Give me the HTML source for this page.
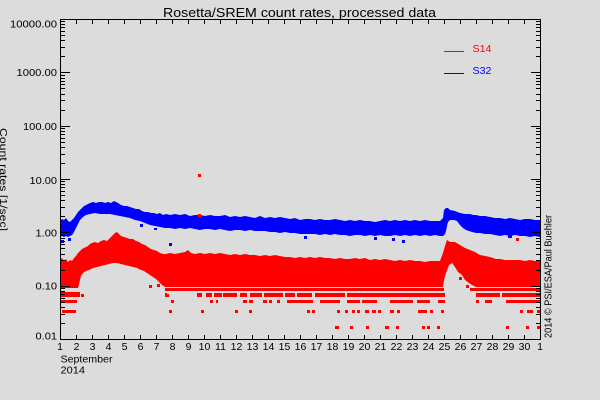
<!DOCTYPE html>
<html><head><meta charset="utf-8"><style>
html,body{margin:0;padding:0;background:#dcdcdc;}
svg{display:block;}
text{font-family:"Liberation Sans",sans-serif;fill:#000;}
</style></head><body>
<svg width="600" height="400" viewBox="0 0 600 400" xmlns="http://www.w3.org/2000/svg">
<rect x="0" y="0" width="600" height="400" fill="#dcdcdc"/>
<defs><clipPath id="pc"><rect x="61" y="20" width="479" height="319"/></clipPath></defs>
<g clip-path="url(#pc)">
<!-- blue band -->
<polygon fill="#0000ff" points="60,221 62,219 64,220 66,218 68,221 70,222 72,220 74,218 76,215 78,212 80,210 82,208 84,206 86,205 88,204 90,203 93,202 96,203 99,202 102,202 105,203 108,202 111,203 114,201 116,202 118,203 121,205 124,206 127,206 130,207 133,208 136,209 139,209 142,211 145,212 148,212 151,213 154,213 157,214 160,213 163,215 166,214 170,215 175,214 180,215 185,214 190,216 195,215 200,215 205,216 210,215 215,216 220,216 225,215 230,217 235,216 240,217 245,216 250,217 255,218 260,216 265,218 270,217 275,218 280,217 285,218 290,219 295,218 300,220 305,219 310,219 315,220 320,219 325,220 330,220 335,219 340,220 345,221 350,220 355,221 360,220 365,221 370,221 375,222 380,221 385,220 390,221 395,220 400,221 405,220 410,221 415,220 420,221 425,220 430,221 435,221 440,221 443,218 444,210 446,208 448,208 450,210 455,211 460,213 465,214 470,214 473,215 476,215 480,216 485,216 490,217 495,218 500,218 505,219 510,218 515,219 520,220 525,219 530,219 535,220 540,220 540,237 535,236 530,237 525,236 520,236 515,235 510,236 505,235 500,236 495,235 490,234 485,234 480,233 476,233 472,232 469,231 466,230 463,228 460,225 457,221 454,220 450,220 448,222 447,226 446,231 445,234 443,236 440,236 435,235 430,236 425,235 420,236 415,235 410,236 405,235 400,236 395,235 390,236 385,236 380,235 375,236 370,235 365,236 360,235 355,235 350,236 345,235 340,235 335,234 330,235 325,234 320,235 315,234 310,234 305,234 300,234 295,233 290,233 285,232 280,233 275,232 270,232 265,231 260,231 255,231 250,230 245,231 240,230 235,230 230,231 225,230 220,229 215,230 210,229 205,229 200,230 195,229 190,228 185,229 180,228 175,229 170,228 165,228 160,227 155,226 150,225 145,223 140,221 135,220 130,218 125,217 120,216 115,215 110,214 105,214 100,214 95,213 90,214 86,215 83,217 80,220 78,224 76,228 74,232 72,235 70,236 68,237 66,236 64,237 62,236 60,237"/>
<g fill="#0000ff">
<rect x="61" y="240" width="3" height="3"/><rect x="68" y="238" width="3" height="3"/>
<rect x="169" y="243" width="3" height="3"/><rect x="402" y="240" width="3" height="3"/>
<rect x="140" y="224" width="3" height="3"/><rect x="154" y="228" width="3" height="2"/>
<rect x="304" y="236" width="3" height="3"/><rect x="374" y="237" width="3" height="3"/>
<rect x="392" y="238" width="3" height="3"/><rect x="508" y="235" width="4" height="3"/>
</g>
<!-- red dense band -->
<polygon fill="#ff0000" points="60,260 62,258 64,261 66,259 68,262 70,260 72,261 74,258 76,256 78,253 80,251 82,249 84,248 86,247 88,246 90,244 92,243 95,242 98,243 101,241 104,240 107,241 110,238 113,235 115,233 117,232 119,234 121,236 124,237 127,238 130,239 133,239 136,241 139,242 142,244 145,245 148,247 151,249 154,250 157,251 160,253 163,254 166,254 170,253 175,254 180,253 185,252 188,250 191,253 195,254 200,253 205,254 210,253 215,254 220,253 225,254 230,255 235,254 240,255 245,254 250,255 255,255 260,256 265,255 270,256 275,255 280,256 285,257 290,257 295,258 300,257 305,258 310,257 315,258 320,257 325,258 330,258 335,259 340,258 345,259 350,259 355,258 360,259 365,258 370,260 375,259 380,260 385,259 390,260 395,261 400,260 405,261 410,260 415,261 420,261 425,262 430,261 435,261 440,261 443,253 445,246 447,240 450,242 455,242 460,245 465,248 470,250 475,252 480,255 485,256 490,257 496,259 500,259 505,260 510,260 515,260 520,260 525,261 530,260 535,261 540,261 540,287 476,287 472,285 469,283 465,280 462,275 458,272 455,267 452,263 449,265 446,273 444,280 443,287 165,287 162,285 159,282 156,279 153,277 150,275 147,273 144,271 141,270 137,268 133,267 129,266 125,265 121,264 117,263 113,263 109,264 105,265 101,266 97,267 93,268 89,270 86,271 83,273 81,276 80,280 79,284 78,288 60,288"/>
<g fill="#ff0000">
<!-- row A -->
<rect x="165" y="288" width="279" height="3"/><rect x="470" y="288" width="70" height="3"/>
<!-- row B -->
<rect x="60" y="292" width="20" height="5"/>
<rect x="165" y="293" width="2" height="4"/><rect x="197" y="293" width="5" height="4"/><rect x="206" y="293" width="6" height="4"/><rect x="214" y="293" width="8" height="4"/><rect x="223" y="293" width="14" height="4"/><rect x="240" y="293" width="7" height="4"/><rect x="250" y="293" width="12" height="4"/><rect x="264" y="293" width="19" height="4"/><rect x="285" y="293" width="10" height="4"/><rect x="297" y="293" width="15" height="4"/><rect x="315" y="293" width="30" height="4"/><rect x="347" y="293" width="98" height="4"/>
<rect x="476" y="293" width="24" height="4"/><rect x="502" y="293" width="38" height="4"/>
<!-- row C -->
<rect x="60" y="300" width="17" height="3"/>
<rect x="210" y="300" width="3" height="3"/><rect x="216" y="300" width="2" height="3"/><rect x="243" y="300" width="4" height="3"/><rect x="249" y="300" width="4" height="3"/><rect x="263" y="300" width="4" height="3"/><rect x="269" y="300" width="3" height="3"/><rect x="277" y="300" width="3" height="3"/><rect x="287" y="300" width="26" height="3"/><rect x="320" y="300" width="20" height="3"/><rect x="347" y="300" width="13" height="3"/><rect x="362" y="300" width="15" height="3"/><rect x="390" y="300" width="23" height="3"/><rect x="417" y="300" width="13" height="3"/><rect x="438" y="300" width="7" height="3"/>
<rect x="476" y="300" width="3" height="3"/><rect x="485" y="300" width="7" height="3"/><rect x="506" y="300" width="34" height="3"/>
<!-- row D -->
<rect x="62" y="310" width="14" height="3"/>
<rect x="169" y="310" width="3" height="3"/><rect x="201" y="310" width="3" height="3"/><rect x="235" y="310" width="3" height="3"/><rect x="249" y="310" width="3" height="3"/><rect x="307" y="310" width="3" height="3"/><rect x="312" y="310" width="3" height="3"/><rect x="337" y="310" width="3" height="3"/><rect x="345" y="310" width="3" height="3"/><rect x="352" y="310" width="3" height="3"/><rect x="357" y="310" width="3" height="3"/><rect x="365" y="310" width="4" height="3"/><rect x="372" y="310" width="4" height="3"/><rect x="378" y="310" width="3" height="3"/><rect x="390" y="310" width="4" height="3"/><rect x="397" y="310" width="3" height="3"/><rect x="418" y="310" width="9" height="3"/><rect x="430" y="310" width="3" height="3"/><rect x="441" y="310" width="3" height="3"/>
<rect x="520" y="310" width="3" height="3"/><rect x="527" y="310" width="6" height="3"/><rect x="537" y="310" width="3" height="3"/>
<!-- row E -->
<rect x="335" y="326" width="4" height="3"/><rect x="350" y="326" width="3" height="3"/><rect x="366" y="326" width="3" height="3"/><rect x="385" y="326" width="4" height="3"/><rect x="396" y="326" width="3" height="3"/><rect x="422" y="326" width="3" height="3"/><rect x="427" y="326" width="3" height="3"/><rect x="437" y="326" width="3" height="3"/><rect x="506" y="326" width="3" height="3"/><rect x="526" y="326" width="3" height="3"/><rect x="537" y="326" width="3" height="3"/>
<!-- scattered -->
<rect x="81" y="294" width="3" height="3"/><rect x="149" y="285" width="3" height="3"/><rect x="157" y="284" width="3" height="3"/><rect x="166" y="294" width="3" height="3"/><rect x="171" y="300" width="3" height="3"/>
<rect x="198" y="174" width="3" height="3"/><rect x="198" y="214" width="3" height="3"/><rect x="516" y="238" width="3" height="3"/>
<rect x="459" y="277" width="3" height="3"/><rect x="466" y="285" width="3" height="3"/>
</g>
</g>
<!-- light gap lines inside red -->
<rect x="240" y="287" width="204" height="1" fill="#dcdcdc"/>
<!-- axes -->
<g stroke="#000" stroke-width="1" fill="none" shape-rendering="crispEdges">
<rect x="60.5" y="19.5" width="480" height="320"/>
<path id="lt" d="M60 19.5H70M60 72.5H70M60 126.5H70M60 179.5H70M60 232.5H70M60 286.5H70M60 339.5H70
M60 323.5H65M60 314.5H65M60 307.5H65M60 302.5H65M60 298.5H65M60 294.5H65M60 291.5H65M60 288.5H65
M60 270.5H65M60 260.5H65M60 254.5H65M60 248.5H65M60 244.5H65M60 241.5H65M60 238.5H65M60 235.5H65
M60 216.5H65M60 207.5H65M60 200.5H65M60 195.5H65M60 191.5H65M60 187.5H65M60 184.5H65M60 181.5H65
M60 163.5H65M60 154.5H65M60 147.5H65M60 142.5H65M60 138.5H65M60 134.5H65M60 131.5H65M60 128.5H65
M60 110.5H65M60 100.5H65M60 94.5H65M60 88.5H65M60 84.5H65M60 81.5H65M60 78.5H65M60 75.5H65
M60 56.5H65M60 47.5H65M60 40.5H65M60 35.5H65M60 31.5H65M60 27.5H65M60 24.5H65M60 21.5H65"/>
<path d="M541 19.5H531M541 72.5H531M541 126.5H531M541 179.5H531M541 232.5H531M541 286.5H531M541 339.5H531
M541 323.5H536M541 314.5H536M541 307.5H536M541 302.5H536M541 298.5H536M541 294.5H536M541 291.5H536M541 288.5H536
M541 270.5H536M541 260.5H536M541 254.5H536M541 248.5H536M541 244.5H536M541 241.5H536M541 238.5H536M541 235.5H536
M541 216.5H536M541 207.5H536M541 200.5H536M541 195.5H536M541 191.5H536M541 187.5H536M541 184.5H536M541 181.5H536
M541 163.5H536M541 154.5H536M541 147.5H536M541 142.5H536M541 138.5H536M541 134.5H536M541 131.5H536M541 128.5H536
M541 110.5H536M541 100.5H536M541 94.5H536M541 88.5H536M541 84.5H536M541 81.5H536M541 78.5H536M541 75.5H536
M541 56.5H536M541 47.5H536M541 40.5H536M541 35.5H536M541 31.5H536M541 27.5H536M541 24.5H536M541 21.5H536"/>
<path d="M76.5 19V24M92.5 19V24M108.5 19V24M124.5 19V24M140.5 19V24M156.5 19V24M172.5 19V24M188.5 19V24M204.5 19V24M220.5 19V24M236.5 19V24M252.5 19V24M268.5 19V24M284.5 19V24M300.5 19V24M316.5 19V24M332.5 19V24M348.5 19V24M364.5 19V24M380.5 19V24M396.5 19V24M412.5 19V24M428.5 19V24M444.5 19V24M460.5 19V24M476.5 19V24M492.5 19V24M508.5 19V24M524.5 19V24"/>
<path d="M76.5 340V335M92.5 340V335M108.5 340V335M124.5 340V335M140.5 340V335M156.5 340V335M172.5 340V335M188.5 340V335M204.5 340V335M220.5 340V335M236.5 340V335M252.5 340V335M268.5 340V335M284.5 340V335M300.5 340V335M316.5 340V335M332.5 340V335M348.5 340V335M364.5 340V335M380.5 340V335M396.5 340V335M412.5 340V335M428.5 340V335M444.5 340V335M460.5 340V335M476.5 340V335M492.5 340V335M508.5 340V335M524.5 340V335"/>
<!-- legend lines -->
<path d="M444 51.5H464" stroke="#ff0000"/>
<path d="M444 73.5H464" stroke="#0000ff"/>
</g>
<!-- title -->
<text x="163" y="17" font-size="13" textLength="273" lengthAdjust="spacingAndGlyphs">Rosetta/SREM count rates, processed data</text>
<!-- y labels -->
<g font-size="10.5">
<text x="10" y="27.5" textLength="47" lengthAdjust="spacingAndGlyphs">10000.00</text>
<text x="16.5" y="76" textLength="40.5" lengthAdjust="spacingAndGlyphs">1000.00</text>
<text x="23" y="130" textLength="34" lengthAdjust="spacingAndGlyphs">100.00</text>
<text x="29.5" y="184" textLength="27.5" lengthAdjust="spacingAndGlyphs">10.00</text>
<text x="35.5" y="236.5" textLength="21.5" lengthAdjust="spacingAndGlyphs">1.00</text>
<text x="35.5" y="289.5" textLength="21.5" lengthAdjust="spacingAndGlyphs">0.10</text>
<text x="35.5" y="339.5" textLength="21.5" lengthAdjust="spacingAndGlyphs">0.01</text>
</g>
<!-- x labels -->
<g font-size="10.5" text-anchor="middle">
<text x="60" y="350">1</text><text x="76.5" y="350">2</text><text x="92.5" y="350">3</text><text x="108.5" y="350">4</text><text x="124.5" y="350">5</text><text x="140.5" y="350">6</text><text x="156.5" y="350">7</text><text x="172.5" y="350">8</text><text x="188.5" y="350">9</text>
<text x="204.5" y="350">10</text><text x="220.5" y="350">11</text><text x="236.5" y="350">12</text><text x="252.5" y="350">13</text><text x="268.5" y="350">14</text><text x="284.5" y="350">15</text><text x="300.5" y="350">16</text><text x="316.5" y="350">17</text><text x="332.5" y="350">18</text><text x="348.5" y="350">19</text><text x="364.5" y="350">20</text><text x="380.5" y="350">21</text><text x="396.5" y="350">22</text><text x="412.5" y="350">23</text><text x="428.5" y="350">24</text><text x="444.5" y="350">25</text><text x="460.5" y="350">26</text><text x="476.5" y="350">27</text><text x="492.5" y="350">28</text><text x="508.5" y="350">29</text><text x="524.5" y="350">30</text><text x="540" y="350">1</text>
</g>
<text x="60.5" y="362.5" font-size="10.5" textLength="52" lengthAdjust="spacingAndGlyphs">September</text>
<text x="60.5" y="373.5" font-size="10.5" textLength="24.5" lengthAdjust="spacingAndGlyphs">2014</text>
<!-- legend text -->
<text x="472.5" y="52" font-size="10.5" fill="#ff0000" style="fill:#ff0000" textLength="19" lengthAdjust="spacingAndGlyphs">S14</text>
<text x="472.5" y="74" font-size="10.5" fill="#0000ff" style="fill:#0000ff" textLength="19" lengthAdjust="spacingAndGlyphs">S32</text>
<!-- axis titles -->
<text transform="translate(0,128) rotate(90)" font-size="10.5" textLength="103" lengthAdjust="spacingAndGlyphs">Count rates [1/sec]</text>
<text transform="translate(551.5,338) rotate(-90)" font-size="10.5" textLength="123" lengthAdjust="spacingAndGlyphs">2014 © PSI/ESA/Paul Buehler</text>
</svg>
</body></html>
